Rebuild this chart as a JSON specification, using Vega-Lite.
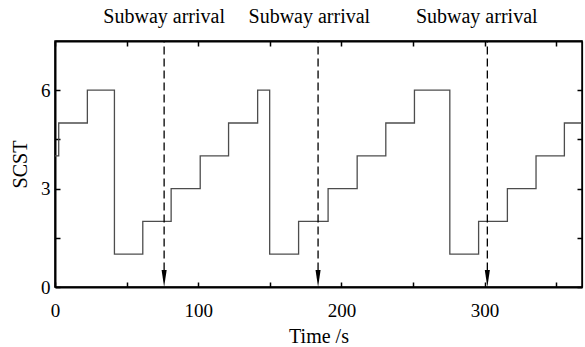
{
  "$schema": "https://vega.github.io/schema/vega-lite/v6.json",
  "width": 527,
  "height": 246,
  "autosize": {"type": "none"},
  "padding": {"left": 55, "top": 41, "right": 3, "bottom": 60},
  "background": "white",
  "config": {
    "font": "Liberation Serif",
    "view": {"stroke": "black", "strokeWidth": 1.5},
    "axis": {
      "labelFont": "Liberation Serif",
      "titleFont": "Liberation Serif",
      "labelColor": "black",
      "titleColor": "black",
      "labelFontSize": 19,
      "titleFontSize": 20,
      "titleFontWeight": "normal",
      "domainColor": "black",
      "domainWidth": 2,
      "tickColor": "black",
      "tickWidth": 1.5,
      "labelFlush": false,
      "grid": false
    }
  },
  "datasets": {
    "scst": [
      {"t": 0, "v": 4}, {"t": 2.6, "v": 5}, {"t": 22.6, "v": 6}, {"t": 41.5, "v": 1},
      {"t": 61.3, "v": 2}, {"t": 81.1, "v": 3}, {"t": 101.4, "v": 4}, {"t": 121.2, "v": 5},
      {"t": 141.5, "v": 6}, {"t": 149.9, "v": 1}, {"t": 170.1, "v": 2}, {"t": 190.7, "v": 3},
      {"t": 211, "v": 4}, {"t": 231, "v": 5}, {"t": 251, "v": 6}, {"t": 275.7, "v": 1},
      {"t": 295.8, "v": 2}, {"t": 315.9, "v": 3}, {"t": 335.9, "v": 4}, {"t": 355.7, "v": 5},
      {"t": 368, "v": 5}
    ],
    "arrivals": [
      {"t": 76.2, "top": 7.5, "bottom": 0.5, "tip": 0.26},
      {"t": 183.7, "top": 7.5, "bottom": 0.5, "tip": 0.26},
      {"t": 301.9, "top": 7.5, "bottom": 0.5, "tip": 0.26}
    ],
    "labels": [
      {"t": 76.2, "y": 8.05, "label": "Subway arrival"},
      {"t": 177.6, "y": 8.05, "label": "Subway arrival"},
      {"t": 294.5, "y": 8.05, "label": "Subway arrival"}
    ]
  },
  "layer": [
    {
      "data": {"name": "scst"},
      "mark": {"type": "line", "interpolate": "step-after", "color": "#4d4d4d", "strokeWidth": 1.3},
      "encoding": {
        "x": {
          "field": "t", "type": "quantitative",
          "scale": {"domain": [0, 368], "nice": false, "zero": false},
          "axis": {
            "orient": "bottom",
            "values": [0, 50, 100, 150, 200, 250, 300, 350],
            "labelExpr": "datum.value % 100 === 0 ? datum.label : ''",
            "tickSize": -5,
            "labelPadding": 19,
            "labelFont": "Liberation Serif",
            "labelFontSize": 19,
            "labelFlush": false,
            "title": "Time /s",
            "titleFont": "Liberation Serif",
            "titleFontSize": 20,
            "titleFontWeight": "normal",
            "titlePadding": 6
          }
        },
        "y": {
          "field": "v", "type": "quantitative",
          "scale": {"domain": [0, 7.5], "nice": false, "zero": false},
          "axis": {
            "orient": "left",
            "values": [0, 1.5, 3, 4.5, 6],
            "labelExpr": "datum.value % 3 === 0 ? datum.label : ''",
            "tickSize": -5,
            "labelPadding": 10,
            "labelFont": "Liberation Serif",
            "labelFontSize": 19,
            "labelFlush": false,
            "title": "SCST",
            "titleFont": "Liberation Serif",
            "titleFontSize": 20,
            "titleFontWeight": "normal",
            "titlePadding": 10
          }
        }
      }
    },
    {
      "data": {"name": "arrivals"},
      "mark": {"type": "rule", "color": "black", "strokeWidth": 1.3, "strokeDash": [8, 4]},
      "encoding": {
        "x": {
          "field": "t", "type": "quantitative",
          "scale": {"domain": [0, 368], "nice": false, "zero": false},
          "axis": {
            "orient": "top",
            "values": [0, 50, 100, 150, 200, 250, 300, 350],
            "labels": false,
            "title": null,
            "tickSize": -5
          }
        },
        "y": {
          "field": "bottom", "type": "quantitative",
          "scale": {"domain": [0, 7.5], "nice": false, "zero": false},
          "axis": {
            "orient": "right",
            "values": [0, 1.5, 3, 4.5, 6],
            "labels": false,
            "title": null,
            "domainWidth": 1.2,
            "tickSize": -5
          }
        },
        "y2": {"field": "top"}
      }
    },
    {
      "data": {"name": "arrivals"},
      "mark": {"type": "point", "shape": "M-0.3,-1L0.3,-1L0,1Z", "filled": true, "color": "black", "opacity": 1, "size": 289},
      "encoding": {
        "x": {"field": "t", "type": "quantitative", "axis": null, "scale": {"domain": [0, 368], "nice": false, "zero": false}},
        "y": {"field": "tip", "type": "quantitative", "axis": null, "scale": {"domain": [0, 7.5], "nice": false, "zero": false}}
      }
    },
    {
      "data": {"name": "labels"},
      "mark": {"type": "text", "font": "Liberation Serif", "fontSize": 20, "color": "black", "baseline": "alphabetic", "align": "center"},
      "encoding": {
        "x": {"field": "t", "type": "quantitative", "axis": null, "scale": {"domain": [0, 368], "nice": false, "zero": false}},
        "y": {"field": "y", "type": "quantitative", "axis": null, "scale": {"domain": [0, 7.5], "nice": false, "zero": false}},
        "text": {"field": "label"}
      }
    }
  ],
  "resolve": {"axis": {"x": "independent", "y": "independent"}}
}
